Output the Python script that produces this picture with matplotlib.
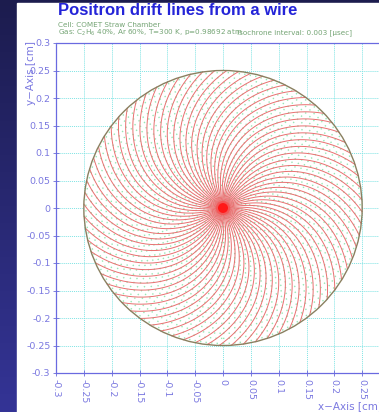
import matplotlib
matplotlib.use('Agg')
import matplotlib.pyplot as plt
import numpy as np
from matplotlib.patches import Circle, Rectangle

# tube geometry [cm]
tube_radius = 0.25
wire_radius = 0.0025
n_lines = 72
# rotation of a drift line between wire and wall [rad]
lorentz_turn = 0.9
lorentz_power = 1.5

# isochrones every 0.003 usec
iso_dt = 0.003
drift_velocity = 2.2  # cm/usec
n_iso = 38

ticks = [-0.3, -0.25, -0.2, -0.15, -0.1, -0.05, 0, 0.05, 0.1, 0.15, 0.2, 0.25, 0.3]
tick_labels = ['-0.3', '-0.25', '-0.2', '-0.15', '-0.1', '-0.05', '0',
               '0.05', '0.1', '0.15', '0.2', '0.25', '0.3']

W, H = 379, 412
fig = plt.figure(figsize=(W / 100, H / 100), dpi=100)

# slide background
bg = fig.add_axes([0, 0, 1, 1])
grad = np.linspace(0, 1, 256)[:, None]
c_top = np.array([28, 28, 78]) / 255
c_bot = np.array([52, 52, 150]) / 255
img = c_top + (c_bot - c_top) * grad[:, :, None]
bg.imshow(img, aspect='auto', extent=[0, 1, 0, 1])
bg.add_patch(Rectangle((17 / W, 0), 1, 1 - 3 / H, color='white'))
bg.set_xlim(0, 1)
bg.set_ylim(0, 1)
bg.axis('off')

ax = fig.add_axes([56 / W, 39 / H, 334 / W, 330 / H])
ax.set_xlim(-0.3, 0.3)
ax.set_ylim(-0.3, 0.3)

lab_col = '#7a78e0'
ax.set_xticks(ticks)
ax.set_yticks(ticks)
ax.set_xticklabels(tick_labels, rotation=270, color=lab_col, fontsize=6.8)
ax.set_yticklabels(tick_labels, color=lab_col, fontsize=6.8)
ax.tick_params(direction='inout', length=4, width=0.6, color='#6a6ad8', pad=2)
ax.grid(True, color='#80e4e4', linestyle=(0, (1, 1)), linewidth=0.7)
ax.set_axisbelow(True)
for sp in ax.spines.values():
    sp.set_color('#6a6ae0')
    sp.set_linestyle((0, (1, 1)))
    sp.set_linewidth(0.9)

# tube wall
ax.add_patch(Circle((0, 0), tube_radius, facecolor='white', edgecolor='none', zorder=1))

# isochrones
for k in range(1, n_iso + 1):
    r = drift_velocity * iso_dt * k * (1 + 0.25 * (k / n_iso))
    if r >= tube_radius:
        break
    ax.add_patch(Circle((0, 0), r, fill=False, edgecolor='#98e6b4',
                        linestyle=(0, (1, 3)), linewidth=1.0, zorder=2))

# drift lines
r = np.linspace(wire_radius, tube_radius, 200)
for i in range(n_lines):
    th0 = 2 * np.pi * i / n_lines
    th = th0 - lorentz_turn * (r / tube_radius) ** lorentz_power
    ax.plot(r * np.cos(th), r * np.sin(th), color='#e87070', linewidth=0.7, zorder=3)

# wire
ax.add_patch(Circle((0, 0), 0.013, color='#ff4040', alpha=0.5, lw=0, zorder=4))
ax.add_patch(Circle((0, 0), 0.009, color='#ff1818', lw=0, zorder=4))
ax.add_patch(Circle((0, 0), tube_radius, fill=False, edgecolor='#8a8060',
                    linewidth=1.0, zorder=5))

fig.text(58 / W, 1 - 10.5 / H, 'Positron drift lines from a wire', color='#2424d8',
         fontsize=12, fontweight='bold', family='Liberation Sans', va='center', ha='left')
sub_col = '#74a474'
fig.text(58 / W, 1 - 25 / H, 'Cell: COMET Straw Chamber', color=sub_col,
         fontsize=5.2, va='center', ha='left')
fig.text(58 / W, 1 - 32.5 / H, 'Gas: C$_2$H$_6$ 40%, Ar 60%, T=300 K, p=0.98692 atm',
         color=sub_col, fontsize=5.2, va='center', ha='left')
fig.text(352 / W, 1 - 32.5 / H, 'Isochrone interval: 0.003 [\u03bcsec]', color=sub_col,
         fontsize=5.2, va='center', ha='right')
fig.text(31 / W, 1 - 41 / H, 'y\u2212Axis [cm]', color=lab_col, fontsize=7.5,
         rotation=90, va='top', ha='center')
fig.text(318 / W, 1 - 406 / H, 'x\u2212Axis [cm]', color=lab_col, fontsize=7.5,
         va='center', ha='left')

fig.savefig('out.png', dpi=100)
